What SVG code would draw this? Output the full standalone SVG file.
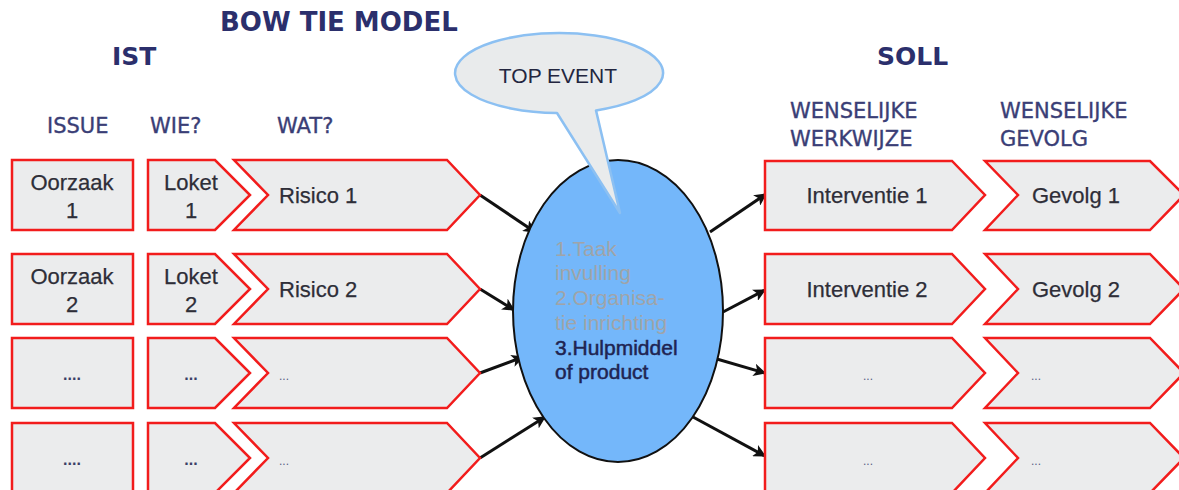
<svg xmlns="http://www.w3.org/2000/svg" width="1179" height="490" viewBox="0 0 1179 490">
  <defs>
    <marker id="arrow" viewBox="0 0 10 10" refX="9" refY="5" markerWidth="4.2" markerHeight="4.2" orient="auto" markerUnits="strokeWidth">
      <path d="M0,0 L10,5 L0,10 L2.5,5 Z" fill="#111"/>
    </marker>
    <style>
      .title { font-family: "DejaVu Sans", sans-serif; font-weight: bold; fill: #2b2f6c; }
      .head { font-family: "DejaVu Sans", sans-serif; font-size: 21px; fill: #3a3e76; stroke: #3a3e76; stroke-width: 0.35; }
      .box { fill: #ebeced; stroke: #f21c1c; stroke-width: 2.5; stroke-linejoin: miter; }
      .lbl { font-family: "Liberation Sans", Arial, sans-serif; font-size: 22px; fill: #2e2e38; stroke: #2e2e38; stroke-width: 0.25; }
      .dots { font-family: "Liberation Sans", Arial, sans-serif; font-size: 16px; font-weight: bold; fill: #3a3e66; }
      .sdots { font-family: "Liberation Sans", Arial, sans-serif; font-size: 12px; fill: #5a5e86; }
      .conn { stroke: #111; stroke-width: 3; fill: none; marker-end: url(#arrow); }
      .ev { font-family: "Liberation Sans", Arial, sans-serif; font-size: 21px; }
    </style>
  </defs>

  <!-- headings -->
  <g id="headings">
    <text class="title" x="220" y="31" font-size="26">BOW TIE MODEL</text>
    <text class="title" x="112" y="65" font-size="25">IST</text>
    <text class="title" x="877" y="65" font-size="25">SOLL</text>
    <text class="head" x="47" y="133">ISSUE</text>
    <text class="head" x="150" y="133">WIE?</text>
    <text class="head" x="277" y="133">WAT?</text>
    <text class="head" x="790" y="118" font-size="22">WENSELIJKE</text>
    <text class="head" x="790" y="146" font-size="22">WERKWIJZE</text>
    <text class="head" x="1000" y="118" font-size="22">WENSELIJKE</text>
    <text class="head" x="1000" y="146" font-size="22">GEVOLG</text>
  </g>

  <!-- connectors -->
  <g id="connectors">
    <line class="conn" x1="480" y1="195" x2="535" y2="232"/>
    <line class="conn" x1="480" y1="289" x2="514" y2="310"/>
    <line class="conn" x1="480" y1="373" x2="523" y2="357"/>
    <line class="conn" x1="480" y1="458" x2="545" y2="417"/>
    <line class="conn" x1="710" y1="232" x2="766" y2="194"/>
    <line class="conn" x1="723" y1="312" x2="765" y2="290"/>
    <line class="conn" x1="710" y1="357" x2="765" y2="373"/>
    <line class="conn" x1="693" y1="417" x2="765" y2="456"/>
  </g>

  <!-- left: issue column -->
  <g id="oorzaak-1"><rect class="box" x="12" y="160" width="121" height="70"/>
    <text class="lbl" x="72" y="190" text-anchor="middle">Oorzaak</text>
    <text class="lbl" x="72" y="218" text-anchor="middle">1</text></g>
  <g id="oorzaak-2"><rect class="box" x="12" y="254" width="121" height="70"/>
    <text class="lbl" x="72" y="284" text-anchor="middle">Oorzaak</text>
    <text class="lbl" x="72" y="312" text-anchor="middle">2</text></g>
  <g id="oorzaak-3"><rect class="box" x="12" y="338" width="121" height="70"/>
    <text class="dots" x="72" y="380" text-anchor="middle">....</text></g>
  <g id="oorzaak-4"><rect class="box" x="12" y="423" width="121" height="70"/>
    <text class="dots" x="72" y="465" text-anchor="middle">....</text></g>

  <!-- left: who column -->
  <g id="loket-1"><polygon class="box" points="148,160 215,160 250,195 215,230 148,230"/>
    <text class="lbl" x="191" y="190" text-anchor="middle">Loket</text>
    <text class="lbl" x="191" y="218" text-anchor="middle">1</text></g>
  <g id="loket-2"><polygon class="box" points="148,254 215,254 250,289 215,324 148,324"/>
    <text class="lbl" x="191" y="284" text-anchor="middle">Loket</text>
    <text class="lbl" x="191" y="312" text-anchor="middle">2</text></g>
  <g id="loket-3"><polygon class="box" points="148,338 215,338 250,373 215,408 148,408"/>
    <text class="dots" x="191" y="380" text-anchor="middle">...</text></g>
  <g id="loket-4"><polygon class="box" points="148,423 215,423 250,458 215,493 148,493"/>
    <text class="dots" x="191" y="465" text-anchor="middle">...</text></g>

  <!-- left: what column -->
  <g id="risico-1"><polygon class="box" points="234,160 447,160 480,195 447,230 234,230 268,195"/>
    <text class="lbl" x="279" y="203">Risico 1</text></g>
  <g id="risico-2"><polygon class="box" points="234,254 447,254 480,289 447,324 234,324 268,289"/>
    <text class="lbl" x="279" y="297">Risico 2</text></g>
  <g id="risico-3"><polygon class="box" points="234,338 447,338 480,373 447,408 234,408 268,373"/>
    <text class="sdots" x="279" y="380">...</text></g>
  <g id="risico-4"><polygon class="box" points="234,423 447,423 480,458 447,493 234,493 268,458"/>
    <text class="sdots" x="279" y="465">...</text></g>

  <!-- right: intervention column -->
  <g id="interventie-1"><polygon class="box" points="765,161 952,161 985,195 952,230 765,230"/>
    <text class="lbl" x="867" y="203" text-anchor="middle">Interventie 1</text></g>
  <g id="interventie-2"><polygon class="box" points="765,254 952,254 985,289 952,324 765,324"/>
    <text class="lbl" x="867" y="297" text-anchor="middle">Interventie 2</text></g>
  <g id="interventie-3"><polygon class="box" points="765,338 952,338 985,373 952,408 765,408"/>
    <text class="sdots" x="868" y="380" text-anchor="middle">...</text></g>
  <g id="interventie-4"><polygon class="box" points="765,423 952,423 985,458 952,493 765,493"/>
    <text class="sdots" x="868" y="465" text-anchor="middle">...</text></g>

  <!-- right: consequence column -->
  <g id="gevolg-1"><polygon class="box" points="985,161 1150,161 1184,195 1150,230 985,230 1018,195"/>
    <text class="lbl" x="1076" y="203" text-anchor="middle">Gevolg 1</text></g>
  <g id="gevolg-2"><polygon class="box" points="985,254 1150,254 1184,289 1150,324 985,324 1018,289"/>
    <text class="lbl" x="1076" y="297" text-anchor="middle">Gevolg 2</text></g>
  <g id="gevolg-3"><polygon class="box" points="985,338 1150,338 1184,373 1150,408 985,408 1018,373"/>
    <text class="sdots" x="1036" y="380" text-anchor="middle">...</text></g>
  <g id="gevolg-4"><polygon class="box" points="985,423 1150,423 1184,458 1150,493 985,493 1018,458"/>
    <text class="sdots" x="1036" y="465" text-anchor="middle">...</text></g>

  <!-- central event -->
  <g id="top-event-core">
    <ellipse cx="618" cy="311" rx="105" ry="151" fill="#74b7fa" stroke="#111" stroke-width="2"/>
    <g class="ev" fill="#a0a4a8">
      <text x="555" y="256">1.Taak</text>
      <text x="555" y="280">invulling</text>
      <text x="555" y="305">2.Organisa-</text>
      <text x="555" y="330">tie inrichting</text>
    </g>
    <g class="ev" fill="#1f2452" stroke="#1f2452" stroke-width="0.5">
      <text x="555" y="355">3.Hulpmiddel</text>
      <text x="555" y="379">of product</text>
    </g>
  </g>

  <!-- callout -->
  <g id="top-event-callout">
    <path d="M596,110.4 A104,40 0 1 0 557,113 L620,213 Z" fill="#e9ebec" stroke="#8cc0f2" stroke-width="2.5" stroke-linejoin="round"/>
    <text x="558" y="83" text-anchor="middle" font-family="Liberation Sans, Arial, sans-serif" font-size="21" fill="#23263f">TOP EVENT</text>
  </g>
</svg>
